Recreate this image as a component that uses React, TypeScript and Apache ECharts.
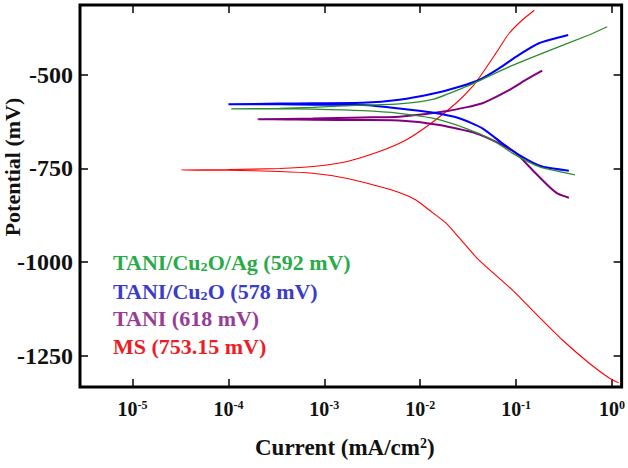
import { useEffect, useRef } from 'react';
import * as echarts from 'echarts';

// Tafel curves: current (mA/cm2) / potential (mV), cathodic end -> Ecorr tip -> anodic end
const msCurrent = [1.175, 0.933, 0.575, 0.302, 0.158, 0.0912, 0.0407, 0.0257, 0.0186, 0.0124, 0.00902, 0.00604, 0.00374, 0.00169, 7.59e-4, 3.41e-4, 1.0e-4, 3.24e-5, 1.0e-4, 3.41e-4, 7.59e-4, 0.00169, 0.00374, 0.0071, 0.0129, 0.0236, 0.035, 0.0445, 0.0614, 0.0843, 0.116, 0.155];
const msPotential = [-1322, -1309, -1269, -1207, -1136, -1074, -994, -936, -896, -861, -834, -814, -798, -776, -763, -758, -755, -754, -753, -750, -745, -732, -705, -674, -630, -576, -532, -496, -443, -390, -354, -328];

const cu2oCurrent = [0.355, 0.187, 0.116, 0.0718, 0.0445, 0.0255, 0.0134, 0.00604, 0.00251, 7.59e-4, 3.41e-4, 1.0e-4, 3.41e-4, 7.59e-4, 0.00251, 0.00604, 0.0134, 0.0255, 0.0411, 0.0664, 0.107, 0.173, 0.349];
const cu2oPotential = [-756, -745, -719, -683, -643, -616, -601, -590, -581, -580, -579, -579, -577, -576, -575, -567, -551, -532, -514, -483, -447, -416, -394];

const agCurrent = [0.41, 0.173, 0.0912, 0.0565, 0.0299, 0.0134, 0.00604, 0.00251, 7.59e-4, 3.41e-4, 1.07e-4, 3.41e-4, 7.59e-4, 0.00251, 0.00604, 0.0134, 0.0299, 0.0429, 0.0843, 0.187, 0.575, 0.891];
const agPotential = [-767, -745, -709, -674, -643, -616, -603, -596, -592, -591, -591, -590, -587, -581, -578, -566, -532, -514, -479, -443, -394, -372];

const taniCurrent = [0.355, 0.275, 0.22, 0.148, 0.0991, 0.0664, 0.038, 0.0158, 0.00604, 0.00251, 7.59e-4, 2.04e-4, 7.59e-4, 0.00251, 0.00604, 0.02, 0.0445, 0.0843, 0.126, 0.187];
const taniPotential = [-828, -818, -798, -754, -709, -683, -656, -634, -622, -621, -620, -619, -617, -614, -612, -596, -576, -541, -514, -489];

const seriesNames = ['TANI/Cu2O/Ag', 'TANI/Cu2O', 'TANI', 'MS'];
const legendLabels = ['TANI/Cu{sub|2}O/Ag (592 mV)', 'TANI/Cu{sub|2}O (578 mV)', 'TANI (618 mV)', 'MS (753.15 mV)'];
const legendColors = ['#2aaa48', '#3b3bcc', '#973c97', '#ee1c25'];
const lineColors = ['#2a8c2a', '#0000ff', '#800080', '#ff0000'];
const lineWidths = [1.3, 2, 2, 1.1];

const yTicks = [-1250, -1000, -750, -500];

const SERIF = '"Liberation Serif", "Times New Roman", serif';

function pair(xs: number[], ys: number[]) {
  return xs.map((x, i) => [x, ys[i]]);
}

function App() {
  const chartRef = useRef<HTMLDivElement>(null);

  useEffect(() => {
    if (!chartRef.current) return;
    const chart = echarts.init(chartRef.current, undefined, { renderer: 'svg' });

    const curves = [
      pair(agCurrent, agPotential),
      pair(cu2oCurrent, cu2oPotential),
      pair(taniCurrent, taniPotential),
      pair(msCurrent, msPotential),
    ];

    const xMin = 2.83e-6;
    const xMax = 1.26;
    const yMin = -1333;
    const yMax = -314;

    const tickStyle = { show: true, inside: true, length: 8, lineStyle: { color: '#000', width: 1.5 } };

    const option: echarts.EChartsOption = {
      animation: false,
      backgroundColor: '#fff',
      grid: { left: 80, right: 5, top: 5, bottom: 81, show: true, borderColor: '#000', borderWidth: 3, backgroundColor: 'transparent' },
      xAxis: [
        {
          type: 'log',
          min: xMin,
          max: xMax,
          position: 'bottom',
          axisLine: { show: false },
          axisTick: tickStyle,
          splitLine: { show: false },
          minorTick: { show: false },
          axisLabel: {
            margin: 12,
            showMinLabel: false,
            showMaxLabel: false,
            formatter: (v: number) => `{b|10}{s|${Math.round(Math.log10(v))}}`,
            rich: {
              b: { fontSize: 20, fontWeight: 'bold', fontFamily: SERIF, color: '#111' },
              s: { fontSize: 12, fontWeight: 'bold', fontFamily: SERIF, color: '#111', verticalAlign: 'top' },
            },
          },
          name: 'Current (mA/cm{sup|2})',
          nameLocation: 'middle',
          nameGap: 49,
          nameTextStyle: {
            fontSize: 23,
            fontWeight: 'bold',
            fontFamily: SERIF,
            color: '#111',
            padding: [0, 12, 0, 0],
            rich: {
              sup: { fontSize: 14, fontWeight: 'bold', fontFamily: SERIF, color: '#111', verticalAlign: 'top' },
            },
          },
        },
        {
          type: 'log',
          min: xMin,
          max: xMax,
          position: 'top',
          axisLine: { show: false },
          axisTick: tickStyle,
          axisLabel: { show: false },
          splitLine: { show: false },
          minorTick: { show: false },
        },
      ],
      yAxis: [
        {
          type: 'value',
          min: yMin,
          max: yMax,
          position: 'left',
          axisLine: { show: false },
          axisTick: { ...tickStyle, customValues: yTicks },
          splitLine: { show: false },
          axisLabel: {
            customValues: yTicks,
            formatter: (v: number) => String(v),
            margin: 7,
            fontSize: 24,
            fontWeight: 'bold',
            fontFamily: SERIF,
            color: '#111',
          },
        },
        {
          type: 'value',
          min: yMin,
          max: yMax,
          position: 'right',
          axisLine: { show: false },
          axisTick: { ...tickStyle, customValues: yTicks },
          axisLabel: { show: false },
          splitLine: { show: false },
        },
      ],
      graphic: [
        {
          type: 'text',
          x: 12,
          y: 167,
          rotation: Math.PI / 2,
          style: {
            text: 'Potential (mV)',
            fontSize: 22,
            fontWeight: 'bold',
            fontFamily: SERIF,
            fill: '#111',
            align: 'center',
            verticalAlign: 'middle',
          },
        },
        ...legendLabels.map((label, i) => ({
          type: 'text' as const,
          x: 113,
          y: [263, 292, 319, 347][i],
          scaleX: 1.1,
          style: {
            text: label,
            fontSize: 20,
            fontWeight: 'bold' as const,
            fontFamily: SERIF,
            fill: legendColors[i],
            align: 'left' as const,
            verticalAlign: 'middle' as const,
            rich: {
              sub: { fontSize: 13, fontWeight: 'bold' as const, fontFamily: SERIF, fill: legendColors[i], verticalAlign: 'bottom' as const },
            },
          },
        })),
      ],
      series: curves.map((data, i) => ({
        name: seriesNames[i],
        type: 'line' as const,
        xAxisIndex: 0,
        yAxisIndex: 0,
        data,
        showSymbol: false,
        symbol: 'none',
        smooth: 0.2,
        lineStyle: { color: lineColors[i], width: lineWidths[i] },
        z: 4 - i,
      })),
    };

    chart.setOption(option);

    return () => {
      chart.dispose();
    };
  }, []);

  return (
    <div
      ref={chartRef}
      style={{ position: 'fixed', left: 0, top: 0, width: 628, height: 468, background: '#fff' }}
    />
  );
}

export default App;
